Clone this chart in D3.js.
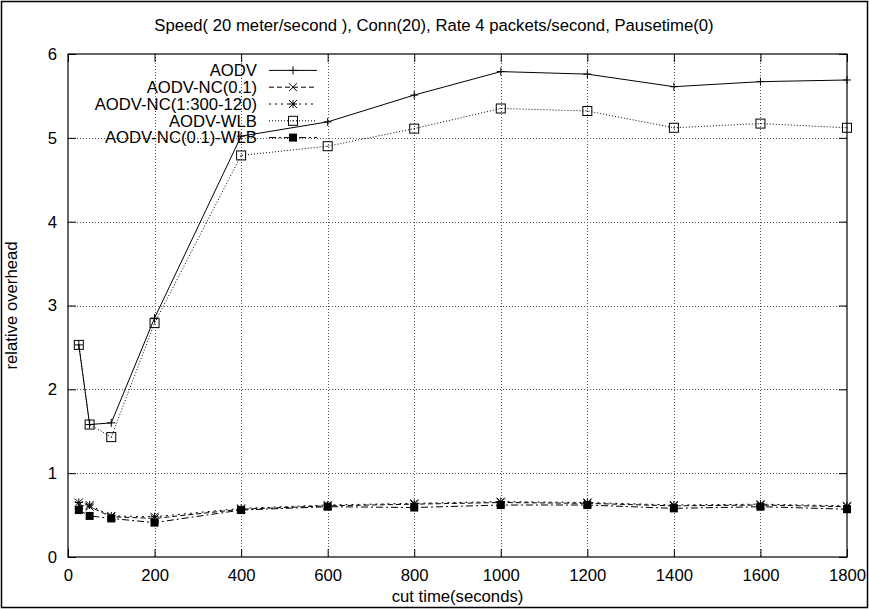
<!DOCTYPE html>
<html>
<head>
<meta charset="utf-8">
<title>relative overhead</title>
<script src="https://cdn.jsdelivr.net/npm/d3@7/dist/d3.min.js"></script>
<style>
	html, body { margin: 0; padding: 0; background: #fff; }
	svg { display: block; font-family: "Liberation Sans", Arial, sans-serif; }
	text { fill: #000; }
</style>
</head>
<body>
<div id="chart"></div>
<script>
// cut times (seconds)
var cutTimes = [25, 50, 100, 200, 400, 600, 800, 1000, 1200, 1400, 1600, 1800];

// relative overhead per protocol
var aodv        = [2.53, 1.58, 1.60, 2.85, 5.02, 5.19, 5.51, 5.79, 5.76, 5.61, 5.67, 5.69];
var aodvNc01    = [0.62, 0.60, 0.48, 0.46, 0.57, 0.61, 0.63, 0.65, 0.64, 0.61, 0.62, 0.60];
var aodvNc1300  = [0.65, 0.62, 0.49, 0.48, 0.58, 0.62, 0.64, 0.66, 0.65, 0.62, 0.63, 0.61];
var aodvWlb     = [2.53, 1.58, 1.43, 2.79, 4.79, 4.90, 5.11, 5.35, 5.32, 5.12, 5.17, 5.12];
var aodvNc01Wlb = [0.56, 0.49, 0.46, 0.41, 0.56, 0.60, 0.59, 0.62, 0.62, 0.58, 0.60, 0.57];

var xTicks = [0, 200, 400, 600, 800, 1000, 1200, 1400, 1600, 1800];
var yTicks = [0, 1, 2, 3, 4, 5, 6];

var seriesNames = ["AODV", "AODV-NC(0.1)", "AODV-NC(1:300-120)", "AODV-WLB", "AODV-NC(0.1)-WLB"];

var series = [
	{ name: seriesNames[0], values: aodv,        dash: null,       marker: "plus" },
	{ name: seriesNames[1], values: aodvNc01,    dash: "5,3",      marker: "cross" },
	{ name: seriesNames[2], values: aodvNc1300,  dash: "2,4",      marker: "star" },
	{ name: seriesNames[3], values: aodvWlb,     dash: "1,2",      marker: "box" },
	{ name: seriesNames[4], values: aodvNc01Wlb, dash: "7,3,2,3",  marker: "filled" }
];

var W = 869, H = 609;
var fontSize = 16.7;
// plot box (named so they don't clash with window.top)
var pLeft = 68, pRight = 847, pTop = 54, pBottom = 557;

var svg = d3.select("#chart").append("svg")
	.attr("width", W)
	.attr("height", H);

svg.append("rect")
	.attr("x", 1.5).attr("y", 1.5)
	.attr("width", W - 3).attr("height", H - 3)
	.attr("fill", "#fff")
	.attr("stroke", "#000")
	.attr("stroke-width", 1.5);

var x = d3.scaleLinear().domain([0, 1800]).range([pLeft, pRight]);
var y = d3.scaleLinear().domain([0, 6]).range([pBottom, pTop]);

// grid
var grid = svg.append("g").attr("stroke", "#555").attr("stroke-dasharray", "1,2").attr("stroke-width", 1);
xTicks.slice(1, -1).forEach(function(t) {
	grid.append("line")
		.attr("x1", Math.round(x(t)) + 0.5).attr("x2", Math.round(x(t)) + 0.5)
		.attr("y1", pTop).attr("y2", pBottom);
});
yTicks.slice(1, -1).forEach(function(t) {
	grid.append("line")
		.attr("x1", pLeft).attr("x2", pRight)
		.attr("y1", Math.round(y(t)) + 0.5).attr("y2", Math.round(y(t)) + 0.5);
});

// axes (ticks inward, mirrored)
var xAxisB = d3.axisBottom(x).tickValues(xTicks).tickFormat(d3.format("d")).tickSizeInner(-8).tickSizeOuter(0).tickPadding(12);
var xAxisT = d3.axisTop(x).tickValues(xTicks).tickSizeInner(-8).tickSizeOuter(0).tickFormat("");
var yAxisL = d3.axisLeft(y).tickValues(yTicks).tickFormat(d3.format("d")).tickSizeInner(-8).tickSizeOuter(0).tickPadding(11);
var yAxisR = d3.axisRight(y).tickValues(yTicks).tickSizeInner(-8).tickSizeOuter(0).tickFormat("");

function styleAxis(g) {
	g.select(".domain").remove();
	g.selectAll("line").attr("stroke", "#000");
	g.selectAll("text").attr("font-size", fontSize).attr("font-family", "Liberation Sans, Arial, sans-serif");
}

svg.append("g").attr("transform", "translate(0," + pBottom + ")").call(xAxisB).call(styleAxis);
svg.append("g").attr("transform", "translate(0," + pTop + ")").call(xAxisT).call(styleAxis);
svg.append("g").attr("transform", "translate(" + pLeft + ",0)").call(yAxisL).call(styleAxis);
svg.append("g").attr("transform", "translate(" + pRight + ",0)").call(yAxisR).call(styleAxis);

svg.append("rect")
	.attr("x", pLeft).attr("y", pTop)
	.attr("width", pRight - pLeft).attr("height", pBottom - pTop)
	.attr("fill", "none").attr("stroke", "#000").attr("stroke-width", 1.2);

// markers
function drawMarker(g, type, cx, cy) {
	var s = 4;
	if (type === "plus") {
		g.append("path").attr("d", "M" + (cx - s) + "," + cy + "H" + (cx + s) + "M" + cx + "," + (cy - s) + "V" + (cy + s))
			.attr("stroke", "#000").attr("fill", "none");
	} else if (type === "cross") {
		g.append("path").attr("d", "M" + (cx - s) + "," + (cy - s) + "L" + (cx + s) + "," + (cy + s) + "M" + (cx - s) + "," + (cy + s) + "L" + (cx + s) + "," + (cy - s))
			.attr("stroke", "#000").attr("fill", "none");
	} else if (type === "star") {
		g.append("path").attr("d", "M" + (cx - s) + "," + cy + "H" + (cx + s) + "M" + cx + "," + (cy - s) + "V" + (cy + s) +
			"M" + (cx - s) + "," + (cy - s) + "L" + (cx + s) + "," + (cy + s) + "M" + (cx - s) + "," + (cy + s) + "L" + (cx + s) + "," + (cy - s))
			.attr("stroke", "#000").attr("fill", "none");
	} else if (type === "box") {
		g.append("rect").attr("x", cx - s - 0.5).attr("y", cy - s - 0.5).attr("width", 2 * s + 1).attr("height", 2 * s + 1)
			.attr("fill", "none").attr("stroke", "#000");
		g.append("rect").attr("x", cx - 0.5).attr("y", cy - 0.5).attr("width", 1).attr("height", 1).attr("fill", "#000");
	} else if (type === "filled") {
		g.append("rect").attr("x", cx - s).attr("y", cy - s).attr("width", 2 * s).attr("height", 2 * s)
			.attr("fill", "#000");
	}
}

var line = d3.line()
	.x(function(d, i) { return x(cutTimes[i]); })
	.y(function(d) { return y(d); });

series.forEach(function(s) {
	var g = svg.append("g");
	g.append("path")
		.attr("d", line(s.values))
		.attr("fill", "none")
		.attr("stroke", "#000")
		.attr("stroke-width", 1)
		.attr("stroke-dasharray", s.dash);
	s.values.forEach(function(v, i) {
		drawMarker(g, s.marker, x(cutTimes[i]), y(v));
	});
});

// legend
var legendY = d3.scaleBand().domain(seriesNames).range([62, 146]);
series.forEach(function(s) {
	var ly = legendY(s.name) + legendY.bandwidth() / 2;
	var g = svg.append("g");
	g.append("text")
		.attr("x", 257).attr("y", ly)
		.attr("dy", "0.35em")
		.attr("text-anchor", "end")
		.attr("font-size", fontSize)
		.text(s.name);
	g.append("line")
		.attr("x1", 269).attr("x2", 317)
		.attr("y1", ly).attr("y2", ly)
		.attr("stroke", "#000")
		.attr("stroke-dasharray", s.dash);
	drawMarker(g, s.marker, 293, ly);
});

// titles
svg.append("text")
	.attr("x", 434).attr("y", 31)
	.attr("text-anchor", "middle")
	.attr("font-size", fontSize)
	.text("Speed( 20 meter/second ), Conn(20), Rate 4 packets/second, Pausetime(0)");

svg.append("text")
	.attr("x", (pLeft + pRight) / 2).attr("y", 602)
	.attr("text-anchor", "middle")
	.attr("font-size", fontSize)
	.text("cut time(seconds)");

svg.append("text")
	.attr("transform", "translate(17," + ((pTop + pBottom) / 2) + ") rotate(-90)")
	.attr("text-anchor", "middle")
	.attr("font-size", fontSize)
	.text("relative overhead");
</script>
</body>
</html>
